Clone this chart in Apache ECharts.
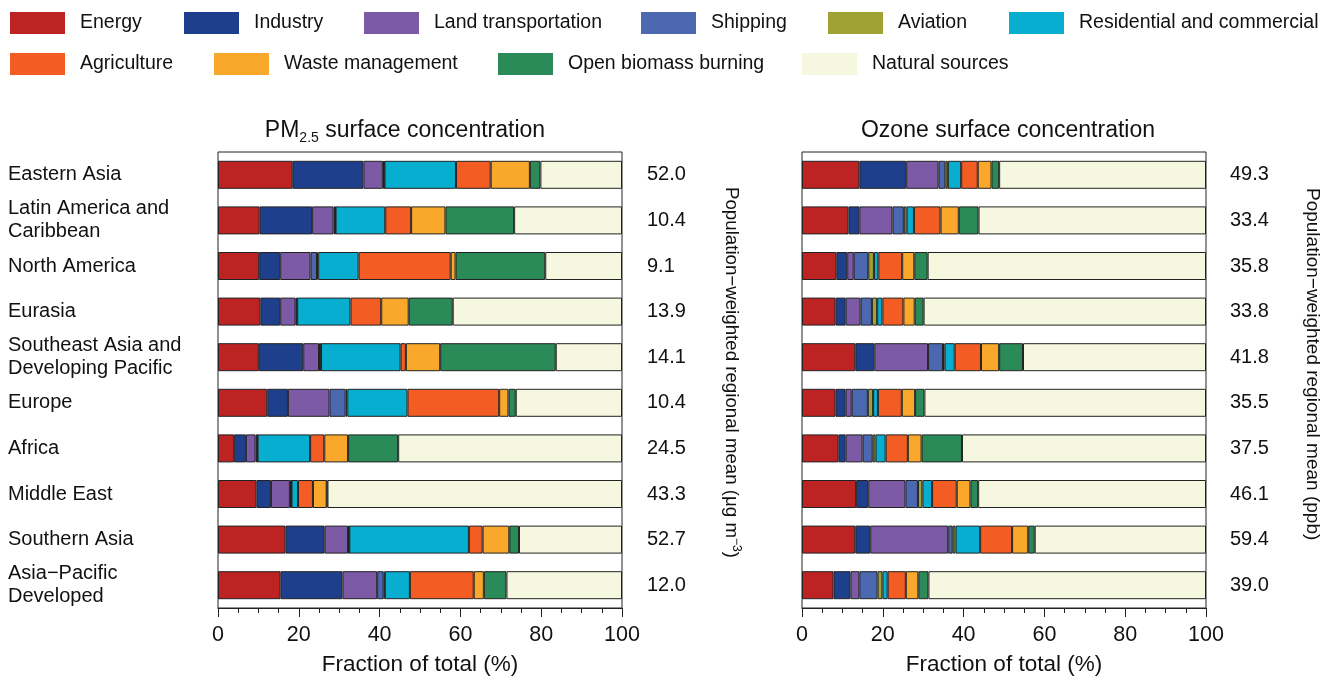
<!DOCTYPE html>
<html>
<head>
<meta charset="utf-8">
<script src="https://cdn.jsdelivr.net/npm/echarts@6/dist/echarts.min.js"></script>
<style>html,body{margin:0;padding:0;background:#fff}#c{width:1321px;height:681px}</style>
</head>
<body>
<div id="c"></div>
<script>
const regions = ['Eastern Asia', 'Latin America and\nCaribbean', 'North America', 'Eurasia', 'Southeast Asia and\nDeveloping Pacific', 'Europe', 'Africa', 'Middle East', 'Southern Asia', 'Asia\u2212Pacific\nDeveloped'];
const sources = ['Energy', 'Industry', 'Land transportation', 'Shipping', 'Aviation', 'Residential and commercial', 'Agriculture', 'Waste management', 'Open biomass burning', 'Natural sources'];
const colors = ['#BE2323', '#1E408C', '#7C5AA6', '#4B68B0', '#A0A234', '#08AECF', '#F35D23', '#F9A82C', '#2A8B58', '#F5F7DF'];
const xTicks = [0, 20, 40, 60, 80, 100];

// PM2.5 fractions (%)
const pmEnergy      = [18.5, 10.3, 10.2, 10.5, 10.1, 12.2, 4.0, 9.5, 16.7, 15.5];
const pmIndustry    = [17.5, 13.0, 5.2, 4.9, 11.0, 5.1, 2.9, 3.6, 9.7, 15.3];
const pmLand        = [4.8, 5.3, 7.5, 3.8, 3.9, 10.3, 2.4, 4.7, 5.8, 8.6];
const pmShipping    = [0.3, 0.4, 1.6, 0.3, 0.4, 4.0, 0.4, 0.3, 0.2, 1.6];
const pmAviation    = [0.1, 0.1, 0.3, 0.1, 0.1, 0.4, 0.1, 0.1, 0.1, 0.3];
const pmResidential = [17.7, 12.3, 10.0, 13.2, 19.7, 14.9, 13.0, 1.6, 29.6, 6.2];
const pmAgriculture = [8.6, 6.4, 22.8, 7.6, 1.3, 22.7, 3.5, 3.7, 3.4, 15.8];
const pmWaste       = [9.7, 8.5, 1.2, 6.8, 8.5, 2.3, 5.9, 3.4, 6.6, 2.5];
const pmBiomass     = [2.6, 17.0, 22.2, 10.9, 28.6, 1.8, 12.4, 0.2, 2.4, 5.6];
const pmNatural     = [20.2, 26.7, 19.0, 41.9, 16.4, 26.3, 55.4, 72.9, 25.5, 28.6];
const pmMeans       = [52.0, 10.4, 9.1, 13.9, 14.1, 10.4, 24.5, 43.3, 52.7, 12.0];

// Ozone fractions (%)
const ozEnergy      = [14.2, 11.5, 8.5, 8.3, 13.2, 8.3, 9.0, 13.4, 13.2, 7.8];
const ozIndustry    = [11.6, 2.7, 2.7, 2.5, 4.7, 2.5, 1.8, 3.0, 3.7, 4.2];
const ozLand        = [8.0, 8.2, 1.6, 3.7, 13.3, 1.5, 4.2, 9.2, 19.3, 2.2];
const ozShipping    = [1.7, 2.8, 3.6, 2.8, 3.7, 4.0, 2.5, 3.1, 1.1, 4.5];
const ozAviation    = [0.6, 0.7, 1.4, 1.3, 0.4, 1.3, 0.7, 1.1, 0.7, 1.2];
const ozResidential = [3.3, 1.8, 1.1, 1.3, 2.5, 1.2, 2.5, 2.4, 6.1, 1.3];
const ozAgriculture = [4.1, 6.6, 5.9, 5.2, 6.5, 5.9, 5.5, 6.1, 7.9, 4.5];
const ozWaste       = [3.4, 4.5, 3.0, 2.8, 4.5, 3.3, 3.4, 3.4, 4.0, 3.1];
const ozBiomass     = [1.9, 4.9, 3.3, 2.2, 5.9, 2.3, 10.0, 1.9, 1.6, 2.5];
const ozNatural     = [51.2, 56.3, 68.9, 69.9, 45.3, 69.7, 60.4, 56.4, 42.4, 68.7];
const ozMeans       = [49.3, 33.4, 35.8, 33.8, 41.8, 35.5, 37.5, 46.1, 59.4, 39.0];

const pmData = [pmEnergy, pmIndustry, pmLand, pmShipping, pmAviation, pmResidential, pmAgriculture, pmWaste, pmBiomass, pmNatural];
const ozData = [ozEnergy, ozIndustry, ozLand, ozShipping, ozAviation, ozResidential, ozAgriculture, ozWaste, ozBiomass, ozNatural];

const FONT = "'Liberation Sans', Arial, Helvetica, sans-serif";
const TXT = '#111';

const legendPos = [
  [10, 12], [184, 12], [364, 12], [641, 12], [828, 12], [1009, 12],
  [10, 53], [214, 53], [498, 53], [802, 53]
];

const legends = sources.map((s, i) => ({
  data: [s],
  left: legendPos[i][0],
  top: legendPos[i][1],
  padding: 0,
  itemWidth: 55,
  itemHeight: 22,
  icon: 'rect',
  itemStyle: { borderWidth: 0 },
  textStyle: { fontFamily: FONT, fontSize: 19.5, color: TXT, padding: [0, 0, 0, 10] }
}));

const gridTop = 152, gridH = 458;
const xAxisCommon = (gi) => ({
  type: 'value', gridIndex: gi, min: 0, max: 100, interval: 20,
  axisLine: { show: true, lineStyle: { color: '#222', width: 1 } },
  axisTick: { show: true, length: 9, lineStyle: { color: '#222' } },
  minorTick: { show: true, splitNumber: 4, length: 5, lineStyle: { color: '#222' } },
  splitLine: { show: false },
  axisLabel: { fontFamily: FONT, fontSize: 21.5, color: TXT, margin: 16, formatter: v => xTicks.includes(v) ? String(v) : '' },
  name: 'Fraction of total (%)',
  nameLocation: 'middle',
  nameGap: 45,
  nameTextStyle: { fontFamily: FONT, fontSize: 22.5, color: TXT }
});

const series = [];
sources.forEach((s, i) => {
  series.push({
    type: 'bar', name: s, stack: 'pm', xAxisIndex: 0, yAxisIndex: 0, data: pmData[i],
    barWidth: 28, itemStyle: { color: colors[i], borderColor: '#222', borderWidth: 1 },
    emphasis: { disabled: true }
  });
});
sources.forEach((s, i) => {
  series.push({
    type: 'bar', name: s, stack: 'oz', xAxisIndex: 1, yAxisIndex: 2, data: ozData[i],
    barWidth: 28, itemStyle: { color: colors[i], borderColor: '#222', borderWidth: 1 },
    emphasis: { disabled: true }
  });
});

const option = {
  animation: false,
  backgroundColor: '#fff',
  title: [
    {
      text: '{a|PM}{s|2.5}{a| surface concentration}',
      left: 405, top: 117, textAlign: 'center', padding: 0,
      textStyle: { fontWeight: 'normal', rich: {
        a: { fontFamily: FONT, fontSize: 23, fontWeight: 'normal', color: TXT, lineHeight: 28 },
        s: { fontFamily: FONT, fontSize: 14, fontWeight: 'normal', color: TXT, lineHeight: 28, verticalAlign: 'bottom' }
      } }
    },
    {
      text: 'Ozone surface concentration',
      left: 1008, top: 117, textAlign: 'center', padding: 0,
      textStyle: { fontFamily: FONT, fontSize: 23, color: TXT, fontWeight: 'normal', lineHeight: 28 }
    }
  ],
  legend: legends,
  grid: [
    { left: 218, top: gridTop, width: 404, height: gridH, show: true, borderColor: '#222', borderWidth: 1, backgroundColor: 'transparent' },
    { left: 802, top: gridTop, width: 404, height: gridH, show: true, borderColor: '#222', borderWidth: 1, backgroundColor: 'transparent' }
  ],
  xAxis: [xAxisCommon(0), xAxisCommon(1)],
  yAxis: [
    {
      type: 'category', gridIndex: 0, data: regions, inverse: true, position: 'left',
      axisLine: { show: false }, axisTick: { show: false },
      axisLabel: { fontFamily: FONT, fontSize: 20, color: TXT, align: 'left', margin: 210, lineHeight: 23 }
    },
    {
      type: 'category', gridIndex: 0, data: pmMeans.map(v => v.toFixed(1)), inverse: true, position: 'right',
      axisLine: { show: false }, axisTick: { show: false },
      axisLabel: { fontFamily: FONT, fontSize: 20, color: TXT, align: 'left', margin: 25 }
    },
    {
      type: 'category', gridIndex: 1, data: regions, inverse: true, position: 'left',
      axisLine: { show: false }, axisTick: { show: false }, axisLabel: { show: false }
    },
    {
      type: 'category', gridIndex: 1, data: ozMeans.map(v => v.toFixed(1)), inverse: true, position: 'right',
      axisLine: { show: false }, axisTick: { show: false },
      axisLabel: { fontFamily: FONT, fontSize: 20, color: TXT, align: 'left', margin: 24 }
    }
  ],
  graphic: [
    {
      type: 'text', x: 731, y: 187, rotation: -Math.PI / 2,
      style: {
        text: '{a|Population\u2212weighted regional mean (\u03bcg m}{b|\u22123}{a|)}',
        align: 'left', verticalAlign: 'middle',
        rich: {
          a: { fontFamily: FONT, fontSize: 18.7, fill: TXT, lineHeight: 22 },
          b: { fontFamily: FONT, fontSize: 12, fill: TXT, lineHeight: 22, verticalAlign: 'top' }
        }
      }
    },
    {
      type: 'text', x: 1312, y: 188, rotation: -Math.PI / 2,
      style: {
        text: 'Population\u2212weighted regional mean (ppb)',
        align: 'left', verticalAlign: 'middle',
        font: "19px 'Liberation Sans', Arial, sans-serif", fill: TXT
      }
    }
  ],
  series: series
};

const chart = echarts.init(document.getElementById('c'), null, { renderer: 'canvas' });
chart.setOption(option);
</script>
</body>
</html>
